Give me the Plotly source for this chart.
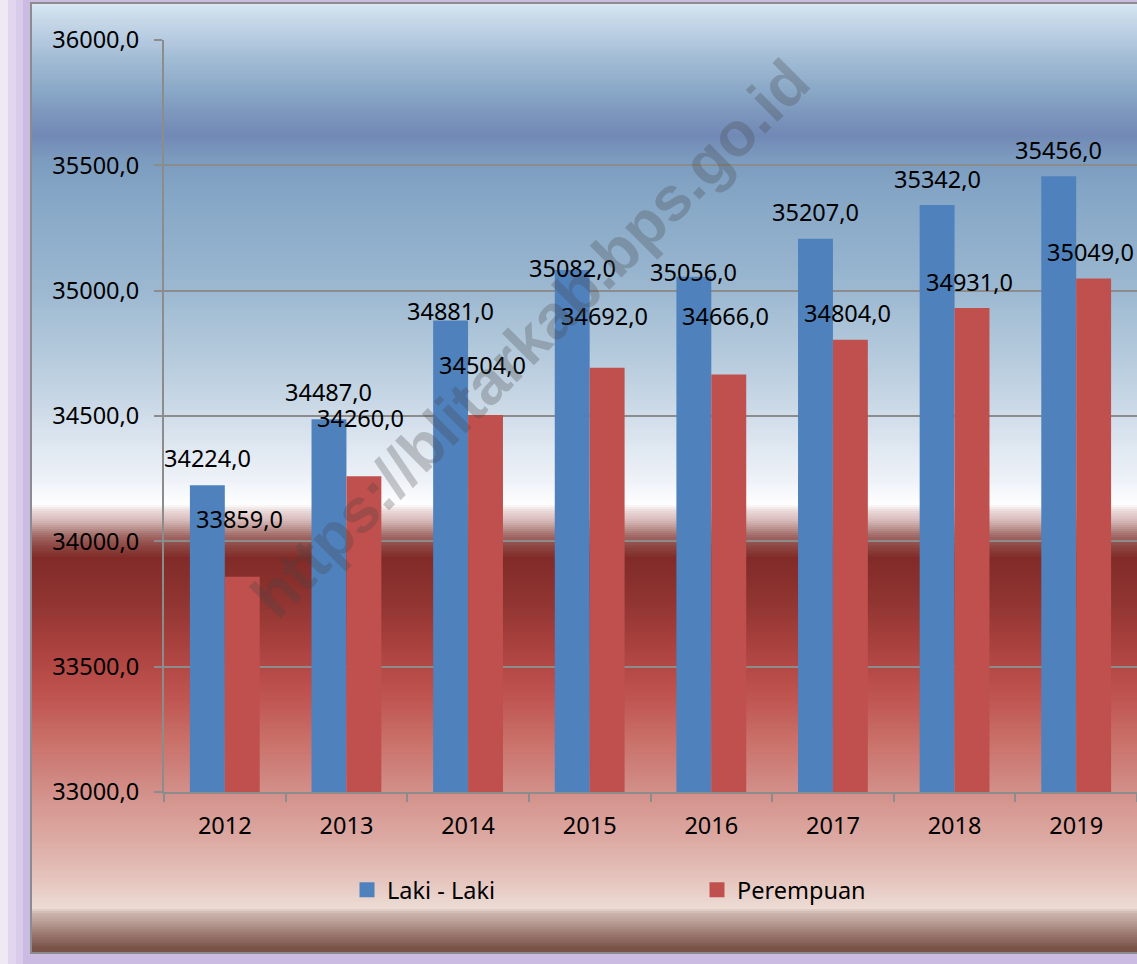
import plotly.graph_objects as go

years = ["2012", "2013", "2014", "2015", "2016", "2017", "2018", "2019"]
laki = [34224, 34487, 34881, 35082, 35056, 35207, 35342, 35456]
perempuan = [33859, 34260, 34504, 34692, 34666, 34804, 34931, 35049]
y_ticks = [33000, 33500, 34000, 34500, 35000, 35500, 36000]

# label offsets (px) above bar tops, as in the reference
laki_label_shift = [27, 27, 10, 2, 5, 27, 26, 26]
per_label_shift = [58, 58, 50, 52, 58, 27, 26, 26]

W, H = 1137, 964
L, R, T, B = 164, 0, 40, 172
PW = W - L - R
PH = H - T - B


def px(x):
    return (x - L) / PW


def py(y):
    return (H - B - y) / PH


def hex2rgb(h):
    h = h.lstrip('#')
    return tuple(int(h[i:i + 2], 16) for i in (0, 2, 4))


def lerp(c1, c2, t):
    a, b = hex2rgb(c1), hex2rgb(c2)
    return 'rgb(%d,%d,%d)' % tuple(round(a[i] + (b[i] - a[i]) * t) for i in range(3))


stops = [
    (3, '#dbe8f4'), (12, '#cddeec'), (40, '#b5cadf'), (60, '#a0bbd3'),
    (90, '#8aa8c7'), (112, '#7d98bd'), (135, '#7189b5'), (160, '#7c9cbf'),
    (200, '#86a7c6'), (260, '#94b2cd'), (300, '#9fbad2'), (320, '#a8c1d6'),
    (360, '#b6cbdd'), (400, '#c8d7e5'), (440, '#dce5ef'), (480, '#eef2f8'),
    (505, '#ffffff'), (507, '#f5eeee'), (512, '#e8d5d5'), (520, '#d8bcbb'),
    (527, '#c09a97'), (535, '#a36d69'), (545, '#8f4a46'), (558, '#812b28'),
    (600, '#8f3431'), (640, '#a6403d'), (680, '#b94d49'), (700, '#c05652'),
    (740, '#c97069'), (780, '#d08882'), (800, '#d5958f'), (840, '#dcaaa3'),
    (880, '#e5c5be'), (908, '#ecdcd4'), (913, '#cbb6ae'), (920, '#bda39a'),
    (927, '#ac8e85'), (934, '#9b786e'), (941, '#8a675e'), (948, '#7a5248'),
    (952, '#7a5248'),
]

shapes = []
shapes.append(dict(type='rect', xref='paper', yref='paper', x0=px(0), x1=px(W), y0=py(H), y1=py(0),
                   fillcolor='#cbbae2', line=dict(width=0), layer='below'))
for x0, x1, c in [(0, 8, '#efe9f6'), (8, 16, '#e2d6ef'), (16, 23, '#d9cbea')]:
    shapes.append(dict(type='rect', xref='paper', yref='paper', x0=px(x0), x1=px(x1), y0=py(H), y1=py(0),
                       fillcolor=c, line=dict(width=0), layer='below'))

step = 2
y = 3
while y < 952:
    yc = y + step / 2
    col = stops[-1][1]
    for i in range(len(stops) - 1):
        if stops[i][0] <= yc <= stops[i + 1][0]:
            t = (yc - stops[i][0]) / max(1e-9, stops[i + 1][0] - stops[i][0])
            col = lerp(stops[i][1], stops[i + 1][1], t)
            break
    shapes.append(dict(type='rect', xref='paper', yref='paper', x0=px(31), x1=px(W + 5),
                       y0=py(min(y + step, 952)), y1=py(y), fillcolor=col, line=dict(width=0), layer='below'))
    y += step

shapes.append(dict(type='rect', xref='paper', yref='paper', x0=px(31), x1=px(W + 10), y0=py(953), y1=py(3),
                   fillcolor='rgba(0,0,0,0)', line=dict(color='#8c8c8c', width=2), layer='below'))

FONT = "Noto Sans"
FS = 23.5
BLUE, RED = '#4f81bd', '#c0504d'

fig = go.Figure()
fig.add_trace(go.Bar(x=years, y=laki, name="Laki - Laki", marker=dict(color=BLUE, line=dict(width=0)),
                     showlegend=False))
fig.add_trace(go.Bar(x=years, y=perempuan, name="Perempuan", marker=dict(color=RED, line=dict(width=0)),
                     showlegend=False))
fig.add_trace(go.Scatter(x=[None], y=[None], mode='markers', name="Laki - Laki",
                         marker=dict(symbol='square', size=15, color=BLUE)))
fig.add_trace(go.Scatter(x=[None], y=[None], mode='markers', name="Perempuan",
                         marker=dict(symbol='square', size=15, color=RED)))

annotations = []
bw = PW / len(years) * 0.574 / 2
for i, yr in enumerate(years):
    annotations.append(dict(x=i, y=laki[i], xref='x', yref='y', text=f"{laki[i]:.1f}".replace('.', ','),
                            showarrow=False, xshift=-bw / 2, yshift=laki_label_shift[i],
                            font=dict(family=FONT, size=FS, color='black'), yanchor='middle'))
    annotations.append(dict(x=i, y=perempuan[i], xref='x', yref='y', text=f"{perempuan[i]:.1f}".replace('.', ','),
                            showarrow=False, xshift=bw / 2 - 3, yshift=per_label_shift[i],
                            font=dict(family=FONT, size=FS, color='black'), yanchor='middle'))

annotations.append(dict(x=px(530), y=py(338), xref='paper', yref='paper', text="<b>https://blitarkab.bps.go.id</b>",
                        showarrow=False, textangle=-45,
                        font=dict(family="Liberation Sans", size=62, color='rgba(70,70,70,0.28)')))

fig.update_layout(
    width=W, height=H,
    margin=dict(l=L, r=R, t=T, b=B, pad=0, autoexpand=False),
    paper_bgcolor='#cbbae2',
    plot_bgcolor='rgba(0,0,0,0)',
    separators=', ',
    barmode='group', bargap=0.426, bargroupgap=0,
    shapes=shapes,
    annotations=annotations,
    font=dict(family=FONT, size=FS, color='black'),
    showlegend=True,
    legend=dict(orientation='h', x=px(347), y=py(890), xanchor='left', yanchor='middle',
                font=dict(family=FONT, size=FS, color='black'), bgcolor='rgba(0,0,0,0)',
                entrywidth=305, entrywidthmode='pixels', itemwidth=30),
    xaxis=dict(type='category', categoryorder='array', categoryarray=years, range=[-0.5, 7.5],
               autorange=False, showgrid=False, showline=True, linecolor='#8c8c8c', linewidth=2,
               ticks='outside', tickson='boundaries', ticklen=8, tickcolor='#8c8c8c', tickwidth=2,
               ticklabelstandoff=12, tickangle=0, tickfont=dict(family=FONT, size=FS, color='black'),
               zeroline=False),
    yaxis=dict(range=[33000, 36000], autorange=False, tickvals=y_ticks, tickformat='.1f', showgrid=True,
               gridcolor='#8c8c8c', gridwidth=2, showline=True, linecolor='#8c8c8c', linewidth=2,
               ticks='outside', ticklen=8, tickcolor='#8c8c8c', tickwidth=2, ticklabelstandoff=10,
               zeroline=False, tickfont=dict(family=FONT, size=FS, color='black')),
)

fig.write_html("out.html", config={'displayModeBar': False},
               post_script="document.body.style.margin='0';document.body.style.overflow='hidden';")
